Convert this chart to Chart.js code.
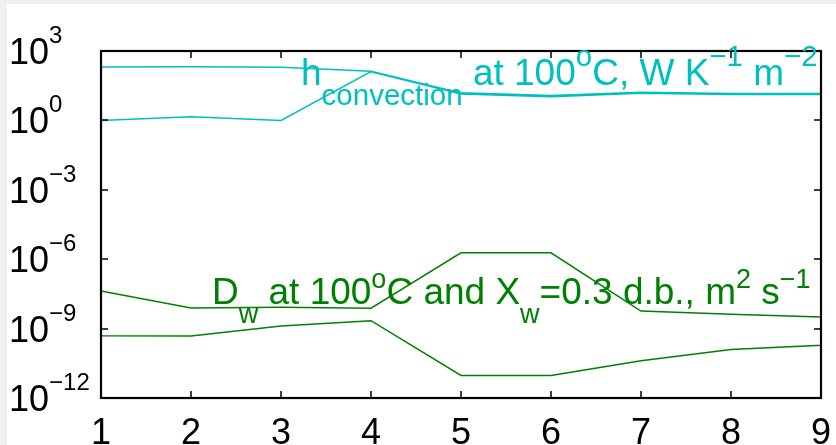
<!DOCTYPE html>
<html>
<head>
<meta charset="utf-8">
<script src="https://cdn.jsdelivr.net/npm/chart.js@4"></script>
<style>
  html, body { margin: 0; padding: 0; background: #f0f0f0; overflow: hidden; }
  #wrap { position: absolute; left: 7px; top: 4px; width: 829px; height: 441px; background: #fff; }
</style>
</head>
<body>
<div id="wrap"><canvas id="chart"></canvas></div>
<script>
// data
const runs = [1, 2, 3, 4, 5, 6, 7, 8, 9];
const hHigh = [205, 210, 200, 132, 15.5, 11.8, 16.5, 14.5, 14.5];
const hLow = [1.0, 1.45, 1.0, 128, 14, 10.6, 15, 13.2, 13.2];
const dwHigh = [4.2e-8, 7.7e-9, 8.3e-9, 7.6e-9, 1.9e-6, 1.9e-6, 5.7e-9, 4.2e-9, 3.2e-9];
const dwLow = [4.9e-10, 4.8e-10, 1.3e-9, 2.2e-9, 9.5e-12, 9.5e-12, 4.1e-11, 1.26e-10, 1.9e-10];
const yTickExps = [-12, -9, -6, -3, 0, 3];
const xTicks = [1, 2, 3, 4, 5, 6, 7, 8, 9];

const CYAN = 'rgb(0,191,191)';
const GREEN = 'rgb(0,128,0)';
const FONT = '"Liberation Sans", Arial, Helvetica, sans-serif';

// closed outline: upper edge left->right, lower edge right->left, back to start
function outline(hi, lo) {
    const pts = runs.map((x, i) => ({ x: x, y: hi[i] }));
    for (let i = runs.length - 1; i >= 0; i--) pts.push({ x: runs[i], y: lo[i] });
    pts.push(pts[0]);
    return pts;
}

// text with sub/superscripts, drawn left to right
function drawRich(ctx, x, y, parts, color, size, small, drop, rise) {
    ctx.save();
    ctx.fillStyle = color;
    ctx.textBaseline = 'alphabetic';
    ctx.textAlign = 'left';
    parts.forEach(([t, kind]) => {
        let yy = y;
        if (kind === 'sub') { ctx.font = small + 'px ' + FONT; yy = y + drop; }
        else if (kind === 'sup') { ctx.font = small + 'px ' + FONT; yy = y - rise; }
        else ctx.font = size + 'px ' + FONT;
        ctx.fillText(t, x, yy);
        x += ctx.measureText(t).width;
    });
    ctx.restore();
}

const axesBox = {
    id: 'axesBox',
    afterDatasetsDraw(chart) {
        const { ctx, chartArea: a, scales: { x, y } } = chart;
        const tick = 7;
        ctx.save();
        ctx.strokeStyle = '#000';
        ctx.lineWidth = 2.2;
        ctx.strokeRect(a.left, a.top, a.right - a.left, a.bottom - a.top);
        ctx.beginPath();
        xTicks.forEach(v => {
            const px = Math.round(x.getPixelForValue(v));
            ctx.moveTo(px, a.bottom); ctx.lineTo(px, a.bottom - tick);
            ctx.moveTo(px, a.top); ctx.lineTo(px, a.top + tick);
        });
        yTickExps.forEach(e => {
            const py = Math.round(y.getPixelForValue(Math.pow(10, e)));
            ctx.moveTo(a.left, py); ctx.lineTo(a.left + tick, py);
            ctx.moveTo(a.right, py); ctx.lineTo(a.right - tick, py);
        });
        ctx.lineWidth = 1.5;
        ctx.stroke();

        // tick labels
        ctx.fillStyle = '#000';
        ctx.textBaseline = 'alphabetic';
        ctx.font = '36px ' + FONT;
        ctx.textAlign = 'center';
        xTicks.forEach(v => ctx.fillText(String(v), x.getPixelForValue(v), 440));
        yTickExps.forEach(e => {
            const base = y.getPixelForValue(Math.pow(10, e)) + 13;
            ctx.textAlign = 'left';
            ctx.font = '36px ' + FONT;
            ctx.fillText('10', 2, base);
            const w = ctx.measureText('10').width;
            ctx.font = '24px ' + FONT;
            ctx.fillText(e < 0 ? '\u2212' + (-e) : String(e), 2 + w, base - 21);
        });
        ctx.restore();

        // in-plot labels
        drawRich(ctx, 294, 81, [
            ['h', ''], ['convection', 'sub'], [' at 100', ''], ['o', 'sup'],
            ['C, W K', ''], ['\u22121', 'sup'], [' m', ''], ['\u22122', 'sup']
        ], CYAN, 37, 29.5, 20, 19);
        drawRich(ctx, 205, 300, [
            ['D', ''], ['w', 'sub'], [' at 100', ''], ['o', 'sup'], ['C and X', ''],
            ['w', 'sub'], ['=0.3 d.b., m', ''], ['2', 'sup'], [' s', ''], ['\u22121', 'sup']
        ], GREEN, 37, 27, 19, 16);
    }
};

new Chart(document.getElementById('chart'), {
    type: 'scatter',
    data: {
        datasets: [
            { label: 'h', data: outline(hHigh, hLow), borderColor: CYAN },
            { label: 'Dw', data: outline(dwHigh, dwLow), borderColor: GREEN }
        ].map(d => Object.assign(d, {
            showLine: true, borderWidth: 1.5, pointRadius: 0, tension: 0, fill: false, clip: false
        }))
    },
    options: {
        responsive: true,
        maintainAspectRatio: false,
        animation: false,
        devicePixelRatio: 1,
        layout: { padding: { left: 94, right: 15, top: 47, bottom: 47 } },
        scales: {
            x: { type: 'linear', min: 1, max: 9, display: false },
            y: { type: 'logarithmic', min: 1e-12, max: 1e3, display: false }
        },
        plugins: { legend: { display: false }, tooltip: { enabled: false } }
    },
    plugins: [axesBox]
});
</script>
</body>
</html>
